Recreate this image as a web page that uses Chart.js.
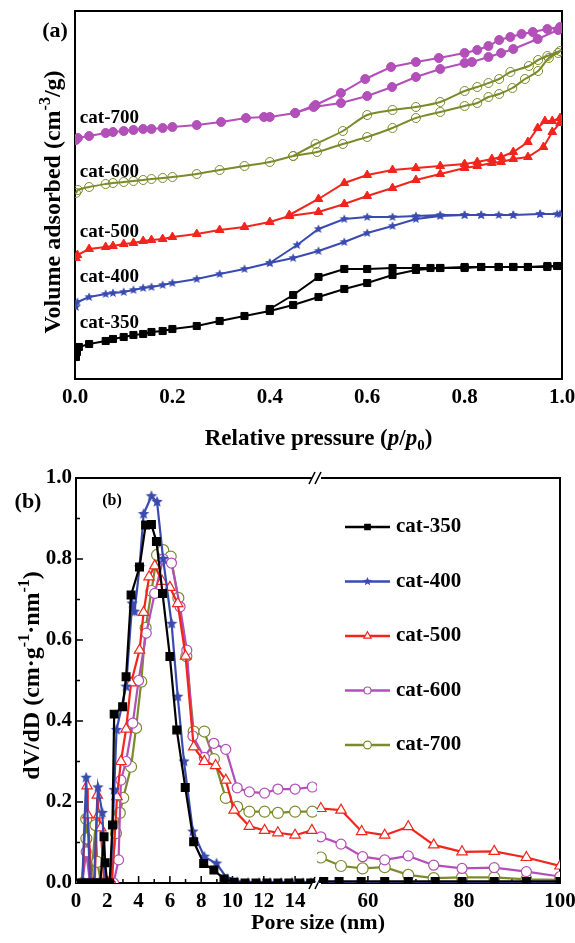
<!DOCTYPE html>
<html><head><meta charset="utf-8">
<script src="https://cdn.jsdelivr.net/npm/chart.js@4.4.1/dist/chart.umd.min.js"></script>
<style>
html,body{margin:0;padding:0;background:#fff;}
#wrap{position:relative;width:575px;height:943px;overflow:hidden;}
canvas{position:absolute;left:0;}
#ca{top:0;}
#cb{top:460px;}
</style></head><body>
<div id="wrap"><canvas id="ca" width="575" height="460"></canvas><canvas id="cb" width="575" height="483"></canvas></div>
<script>
// ================= Panel (a): N2 isotherms (x = p/p0, y = volume, arbitrary offset units) =================
const xTicksA = [0, 0.2, 0.4, 0.6, 0.8, 1.0];
const namesA = ['cat-350', 'cat-400', 'cat-500', 'cat-600', 'cat-700'];
const labelValA = [56, 102, 147, 207, 261];

const cat350Ads = [[0.002,22],[0.004,27],[0.008,32],[0.029,35],[0.063,38],[0.078,40],[0.10,42],[0.12,44],[0.14,45],[0.157,47],[0.18,48],[0.20,50],[0.25,53],[0.297,58],[0.348,63],[0.40,68],[0.448,74],[0.50,82],[0.553,90],[0.60,96],[0.652,104],[0.70,109],[0.75,111],[0.80,111],[0.834,112],[0.87,112],[0.90,112],[0.93,112],[0.97,112],[0.99,113]];
const cat350Des = [[0.996,113],[0.97,113],[0.93,112],[0.90,112],[0.87,112],[0.834,112],[0.80,112],[0.75,111],[0.73,111],[0.70,111],[0.652,111],[0.60,110],[0.553,110],[0.50,102],[0.448,84],[0.40,70]];

const cat400Ads = [[0.002,72],[0.005,77],[0.029,82],[0.063,85],[0.078,86],[0.10,87],[0.12,89],[0.14,91],[0.157,92],[0.18,94],[0.20,96],[0.25,100],[0.297,105],[0.348,110],[0.40,116],[0.448,121],[0.50,128],[0.553,137],[0.60,146],[0.652,153],[0.70,160],[0.75,163],[0.80,164],[0.834,164],[0.87,164],[0.90,164],[0.955,165],[0.99,165]];
const cat400Des = [[0.996,165],[0.955,165],[0.90,164],[0.834,164],[0.80,164],[0.75,164],[0.70,163],[0.652,162],[0.60,162],[0.553,160],[0.50,150],[0.456,134],[0.40,116]];

const cat500Ads = [[0.002,121],[0.005,124],[0.029,130],[0.063,132],[0.078,133],[0.10,135],[0.12,136],[0.14,138],[0.157,139],[0.18,140],[0.20,142],[0.25,145],[0.297,149],[0.348,152],[0.40,157],[0.44,163],[0.50,167],[0.553,175],[0.60,183],[0.652,191],[0.70,199],[0.75,205],[0.80,211],[0.826,213],[0.856,216],[0.875,217],[0.90,220],[0.93,222],[0.962,232],[0.98,247],[0.996,256]];
const cat500Des = [[0.996,261],[0.98,258],[0.965,258],[0.95,251],[0.93,237],[0.90,227],[0.875,222],[0.856,220],[0.826,217],[0.80,215],[0.75,213],[0.70,211],[0.652,209],[0.60,204],[0.553,196],[0.50,180],[0.44,164]];

const cat600Ads = [[0.002,186],[0.006,189],[0.029,192],[0.063,195],[0.078,196],[0.10,197],[0.12,198],[0.14,199],[0.157,200],[0.18,201],[0.20,202],[0.25,205],[0.297,209],[0.348,213],[0.40,217],[0.448,223],[0.497,227],[0.55,235],[0.60,242],[0.652,251],[0.70,261],[0.75,267],[0.80,273],[0.826,276],[0.849,282],[0.871,285],[0.898,291],[0.924,300],[0.951,308],[0.973,321],[0.992,326]];
const cat600Des = [[0.996,328],[0.97,323],[0.951,319],[0.932,313],[0.894,307],[0.871,300],[0.849,296],[0.826,292],[0.80,288],[0.75,277],[0.70,272],[0.652,269],[0.60,264],[0.55,248],[0.494,235],[0.448,223]];

const cat700Ads = [[0.002,239],[0.006,241],[0.029,243],[0.063,246],[0.078,247],[0.10,248],[0.12,249],[0.14,250],[0.157,250],[0.18,251],[0.20,252],[0.25,254],[0.30,257],[0.351,261],[0.388,262],[0.40,262],[0.452,266],[0.49,272],[0.546,276],[0.60,283],[0.651,292],[0.70,302],[0.75,310],[0.80,316],[0.815,317],[0.849,322],[0.875,326],[0.90,330],[0.95,340],[0.992,349]];
const cat700Des = [[0.996,352],[0.97,350],[0.94,347],[0.917,345],[0.894,342],[0.871,339],[0.849,333],[0.826,329],[0.80,326],[0.747,321],[0.70,317],[0.649,312],[0.596,300],[0.546,286],[0.494,274],[0.452,266]];

// ================= Panel (b): pore size distribution (x = nm, y = dV/dD) =================
const yTicksB = [0, 0.2, 0.4, 0.6, 0.8, 1.0];
const yMinorB = [0.1, 0.3, 0.5, 0.7, 0.9];
const xTicksBL = [0, 2, 4, 6, 8, 10, 12, 14];
const xMinorBL = [1, 3, 5, 7, 9, 11, 13, 15];
const xTicksBR = [60, 80, 100];
const xMinorBR = [50, 70, 90];
const namesB = ['cat-350', 'cat-400', 'cat-500', 'cat-600', 'cat-700'];

const pore350L = [[0.35,0],[0.65,0],[0.95,0],[1.25,0],[1.55,0],[1.79,0.114],[1.86,0.05],[2.0,0],[2.15,0],[2.33,0.143],[2.44,0.417],[2.98,0.435],[3.2,0.509],[3.52,0.711],[4.06,0.78],[4.45,0.884],[4.82,0.885],[5.14,0.843],[5.53,0.715],[6.0,0.559],[6.44,0.378],[6.98,0.236],[7.52,0.102],[8.16,0.048],[8.81,0.032],[9.46,0.01],[10.1,0.002],[10.8,0],[11.5,0],[12.2,0],[12.9,0],[13.6,0],[14.3,0],[15.0,0]];
const pore400L = [[0.4,0],[0.65,0.26],[0.9,0],[1.15,0],[1.4,0.236],[1.68,0.173],[1.9,0],[2.2,0],[2.44,0.23],[2.59,0.378],[3.2,0.485],[3.59,0.69],[3.74,0.67],[4.06,0.78],[4.32,0.911],[4.82,0.955],[5.18,0.941],[5.57,0.80],[6.11,0.64],[6.5,0.46],[6.9,0.30],[7.47,0.127],[8.2,0.065],[8.98,0.048],[9.68,0.01],[10.3,0.002],[11.0,0],[11.7,0],[12.4,0],[13.1,0],[13.8,0],[14.5,0],[15.0,0]];
const pore500L = [[0.4,0],[0.71,0.24],[0.75,0.168],[1.0,0],[1.2,0],[1.36,0.217],[1.45,0.168],[1.58,0.136],[1.8,0],[2.05,0],[2.3,0],[2.62,0.213],[2.87,0.30],[3.2,0.38],[3.52,0.494],[4.06,0.575],[4.32,0.668],[4.67,0.756],[5.03,0.783],[5.5,0.745],[6.0,0.73],[6.5,0.69],[7.0,0.56],[7.52,0.336],[8.2,0.30],[8.92,0.29],[9.57,0.254],[10.1,0.18],[11.08,0.14],[12.05,0.13],[12.9,0.124],[14.0,0.118],[15.07,0.13]];
const pore600L = [[0.4,0],[0.65,0.077],[0.9,0],[1.2,0],[1.5,0],[1.8,0],[2.1,0],[2.4,0],[2.72,0.057],[2.87,0.254],[3.2,0.30],[3.63,0.395],[4.0,0.50],[4.49,0.617],[5.03,0.715],[5.57,0.80],[6.1,0.79],[6.65,0.682],[7.08,0.575],[7.47,0.363],[8.2,0.31],[8.81,0.345],[9.57,0.33],[10.3,0.235],[11.08,0.225],[12.05,0.222],[12.9,0.232],[14.0,0.232],[15.1,0.237]];
const pore700L = [[0.4,0],[0.65,0.158],[0.66,0.11],[0.95,0],[1.25,0.143],[1.36,0.052],[1.6,0],[1.9,0],[2.2,0],[2.55,0.123],[2.8,0.173],[3.02,0.21],[3.52,0.287],[3.84,0.383],[4.17,0.497],[4.45,0.63],[4.82,0.721],[5.18,0.81],[5.57,0.822],[6.05,0.806],[6.54,0.704],[7.05,0.56],[7.52,0.374],[8.2,0.374],[8.81,0.306],[9.57,0.21],[10.3,0.188],[11.08,0.176],[12.05,0.176],[12.9,0.173],[14.0,0.176],[15.1,0.176]];

const pore350R = [[50.8,0.004],[54,0.004],[58.6,0.004],[63.5,0.004],[68.4,0.004],[74,0.004],[79.6,0.004],[86.3,0.004],[93,0.004],[100,0.004]];
const pore400R = [[49.6,0.001],[54.4,0.001],[58.9,0.001],[63.5,0.001],[68.4,0.001],[73.7,0.001],[79.6,0.001],[86.3,0.001],[93,0.001],[100,0.001]];
const pore500R = [[50.2,0.184],[54.4,0.18],[58.7,0.127],[63.5,0.118],[68.4,0.139],[73.7,0.094],[79.6,0.077],[86.3,0.078],[93,0.063],[100,0.042]];
const pore600R = [[50.2,0.114],[54.4,0.096],[58.9,0.065],[63.5,0.057],[68.4,0.067],[73.7,0.044],[79.6,0.036],[86.3,0.038],[93,0.028],[100,0.016]];
const pore700R = [[50.2,0.063],[54.4,0.042],[58.9,0.036],[63.5,0.039],[68.4,0.02],[73.7,0.012],[79.6,0.014],[86.3,0.014],[93,0.009],[100,0.008]];

// ================= styling =================
const FONT = "'Liberation Serif', 'Times New Roman', serif";
Chart.defaults.font.family = FONT;
Chart.defaults.font.weight = 'bold';
Chart.defaults.color = '#000';
Chart.defaults.animation = false;

const BLACK = '#000000', BLUE = '#3a4bb0', RED = '#f2251c', MAGENTA = '#b24fb8', OLIVE = '#7c8a2c';
const COLORS_A = [BLACK, BLUE, RED, OLIVE, MAGENTA];
const COLORS_B = [BLACK, BLUE, RED, MAGENTA, OLIVE];

function starCanvas(r, color) {
  const c = document.createElement('canvas');
  const s = Math.ceil(r * 2 + 2);
  c.width = s; c.height = s;
  const g = c.getContext('2d');
  g.fillStyle = color; g.beginPath();
  for (let i = 0; i < 10; i++) {
    const a = -Math.PI / 2 + i * Math.PI / 5;
    const rr = i % 2 ? r * 0.45 : r;
    g.lineTo(s / 2 + rr * Math.cos(a), s / 2 + rr * Math.sin(a));
  }
  g.closePath(); g.fill();
  return c;
}

function richText(ctx, runs, cx, cy, size, rot) {
  ctx.save();
  ctx.translate(cx, cy); ctx.rotate(rot);
  const fnt = r => `${r.it ? 'italic ' : ''}bold ${(r.sup || r.sub) ? Math.round(size * 0.66) : size}px ${FONT}`;
  let w = 0;
  const ws = runs.map(r => { ctx.font = fnt(r); const m = ctx.measureText(r.t).width; w += m; return m; });
  let x = -w / 2;
  ctx.textAlign = 'left'; ctx.textBaseline = 'alphabetic'; ctx.fillStyle = '#000';
  runs.forEach((r, i) => {
    ctx.font = fnt(r);
    const dy = r.sup ? -size * 0.4 : (r.sub ? size * 0.22 : 0);
    ctx.fillText(r.t, x, size * 0.33 + dy);
    x += ws[i];
  });
  ctx.restore();
}

function marker(ctx, st, x, y, r, fill, stroke) {
  if (typeof st !== 'string') { ctx.drawImage(st, x - st.width / 2, y - st.height / 2); return; }
  ctx.beginPath();
  if (st === 'rect') { const s = r * Math.SQRT1_2; ctx.rect(x - s, y - s, 2 * s, 2 * s); }
  else if (st === 'triangle') {
    let a = 0;
    for (let k = 0; k < 3; k++) { const px = x + Math.sin(a) * r, py = y - Math.cos(a) * r; k ? ctx.lineTo(px, py) : ctx.moveTo(px, py); a += 2 * Math.PI / 3; }
    ctx.closePath();
  } else { ctx.arc(x, y, r, 0, Math.PI * 2); }
  ctx.fillStyle = fill; ctx.fill();
  ctx.lineWidth = 1.2; ctx.strokeStyle = stroke; ctx.stroke();
}

// ================= Panel (a) chart =================
const adsA = [cat350Ads, cat400Ads, cat500Ads, cat600Ads, cat700Ads];
const desA = [cat350Des, cat400Des, cat500Des, cat600Des, cat700Des];
const pointA = ['rect', starCanvas(4.8, BLUE), 'triangle', 'circle', 'circle'];
const fillA = [BLACK, BLUE, RED, 'rgba(255,255,255,0)', MAGENTA];
const radA = [5, 5, 5, 4.5, 4.5];
const tensionA = [0, 0, 0, 0.3, 0];

const decorA = {
  id: 'decorA',
  beforeDatasetsDraw(chart) {
    const { ctx, chartArea: a } = chart;
    ctx.save(); ctx.lineWidth = 2; ctx.strokeStyle = '#000';
    ctx.strokeRect(a.left, a.top, a.right - a.left, a.bottom - a.top);
    ctx.restore();
  },
  afterDraw(chart) {
    const { ctx, chartArea: a, scales } = chart;
    ctx.save();
    ctx.fillStyle = '#000'; ctx.textBaseline = 'middle'; ctx.textAlign = 'left';
    ctx.font = `bold 19px ${FONT}`;
    namesA.forEach((t, i) => ctx.fillText(t, scales.x.getPixelForValue(0.01), scales.y.getPixelForValue(labelValA[i])));
    ctx.font = `bold 22px ${FONT}`; ctx.textAlign = 'center';
    ctx.fillText('(a)', 55, 31);
    ctx.restore();
    richText(ctx, [{ t: 'Relative pressure (' }, { t: 'p', it: 1 }, { t: '/' }, { t: 'p', it: 1 }, { t: '0', sub: 1 }, { t: ')' }], (a.left + a.right) / 2, a.bottom + 58, 23, 0);
    richText(ctx, [{ t: 'Volume adsorbed (cm' }, { t: '-3', sup: 1 }, { t: '/g)' }], 52, (a.top + a.bottom) / 2 + 7, 24, -Math.PI / 2);
  }
};

new Chart(document.getElementById('ca'), {
  type: 'line',
  data: {
    datasets: namesA.map((n, i) => ({
      label: n,
      data: adsA[i].concat(desA[i]).map(([x, y]) => ({ x, y })),
      borderColor: COLORS_A[i], borderWidth: 2, tension: tensionA[i], fill: false,
      pointStyle: pointA[i], pointRadius: radA[i],
      pointBackgroundColor: fillA[i],
      pointBorderColor: COLORS_A[i], pointBorderWidth: 1
    }))
  },
  options: {
    responsive: false, animation: false,
    layout: { padding: { left: 0, top: 11, right: 13, bottom: 0 } },
    plugins: { legend: { display: false }, tooltip: { enabled: false } },
    scales: {
      x: {
        type: 'linear', min: 0, max: 1,
        afterBuildTicks: s => { s.ticks = xTicksA.map(v => ({ value: v })); },
        afterFit: s => { s.height = 81; s.paddingLeft = 0; s.paddingRight = 0; },
        grid: { display: false, drawTicks: false }, border: { display: false },
        ticks: { font: { size: 21, weight: 'bold' }, padding: 6, maxRotation: 0, autoSkip: false, callback: v => Number(v).toFixed(1) }
      },
      y: {
        type: 'linear', min: 0, max: 368,
        afterFit: s => { s.width = 75; },
        grid: { display: false, drawTicks: false }, border: { display: false },
        ticks: { display: false }
      }
    }
  },
  plugins: [decorA]
});

// ================= Panel (b) chart =================
const leftB = [pore350L, pore400L, pore500L, pore600L, pore700L];
const rightB = [pore350R, pore400R, pore500R, pore600R, pore700R];
const pointB = ['rect', starCanvas(6, BLUE), 'triangle', 'circle', 'circle'];
const fillB = [BLACK, BLUE, '#ffffff', '#ffffff', '#ffffff'];
const radB = [5.5, 6, 6, 5, 5.5];

function dsB(i, data, axis, showPts) {
  return {
    label: namesB[i] + (axis === 'xL' ? '' : ' '),
    data: data.map(([x, y]) => ({ x, y })),
    xAxisID: axis, yAxisID: 'y',
    borderColor: COLORS_B[i], borderWidth: 2.2, tension: 0, fill: false,
    pointStyle: pointB[i], pointRadius: showPts ? radB[i] : 0,
    pointBackgroundColor: fillB[i], pointBorderColor: COLORS_B[i], pointBorderWidth: 1.2
  };
}

const decorB = {
  id: 'decorB',
  beforeDatasetsDraw(chart) {
    const { ctx, chartArea: a, scales } = chart;
    const bx = scales.xL.right;
    ctx.save();
    ctx.lineWidth = 2; ctx.strokeStyle = '#000';
    ctx.beginPath();
    ctx.moveTo(bx - 5, a.top); ctx.lineTo(a.left, a.top); ctx.lineTo(a.left, a.bottom); ctx.lineTo(bx - 5, a.bottom);
    ctx.moveTo(bx + 4, a.bottom); ctx.lineTo(a.right, a.bottom); ctx.lineTo(a.right, a.top); ctx.lineTo(bx + 4, a.top);
    ctx.stroke();
    ctx.lineWidth = 1.6;
    ctx.beginPath();
    [a.top, a.bottom].forEach(y => {
      [-5, 1].forEach(d => { ctx.moveTo(bx + d - 3, y + 6); ctx.lineTo(bx + d + 3, y - 6); });
    });
    ctx.stroke();
    // inward tick marks
    ctx.lineWidth = 1.5;
    ctx.beginPath();
    const ty = (v, len) => { const y = scales.y.getPixelForValue(v); ctx.moveTo(a.left, y); ctx.lineTo(a.left + len, y); };
    yTicksB.filter(v => v > 0 && v < 1).forEach(v => ty(v, 7));
    yMinorB.forEach(v => ty(v, 4));
    const tx = (sc, v, len) => { const x = sc.getPixelForValue(v); if (x <= a.left + 1 || x >= a.right - 1 || x < sc.left || x > sc.right) return; ctx.moveTo(x, a.bottom); ctx.lineTo(x, a.bottom - len); };
    xTicksBL.forEach(v => tx(scales.xL, v, 7));
    xMinorBL.forEach(v => tx(scales.xL, v, 4));
    xTicksBR.forEach(v => tx(scales.xR, v, 7));
    xMinorBR.forEach(v => tx(scales.xR, v, 4));
    ctx.stroke();
    ctx.restore();
  },
  afterDraw(chart) {
    const { ctx, chartArea: a } = chart;
    ctx.save();
    ctx.fillStyle = '#000'; ctx.textBaseline = 'middle'; ctx.textAlign = 'center';
    ctx.font = `bold 22px ${FONT}`;
    ctx.fillText('(b)', 28, 42);
    ctx.font = `bold 16px ${FONT}`;
    ctx.fillText('(b)', 112, 41);
    // legend
    namesB.forEach((n, i) => {
      const y = a.top + 49 + i * 54.5;
      const x0 = a.left + 269, x1 = a.left + 314;
      ctx.strokeStyle = COLORS_B[i]; ctx.lineWidth = 2.4;
      ctx.beginPath(); ctx.moveTo(x0, y); ctx.lineTo(x1, y); ctx.stroke();
      const st = i === 1 ? starCanvas(4.5, BLUE) : pointB[i];
      marker(ctx, st, (x0 + x1) / 2, y, radB[i] * 0.7, fillB[i], COLORS_B[i]);
      ctx.fillStyle = '#000'; ctx.textAlign = 'left'; ctx.font = `bold 21px ${FONT}`;
      ctx.fillText(n, x1 + 6, y);
    });
    ctx.restore();
    richText(ctx, [{ t: 'Pore size (nm)' }], (a.left + a.right) / 2, a.bottom + 39, 22, 0);
    richText(ctx, [{ t: 'dV/dD (cm·g' }, { t: '-1', sup: 1 }, { t: '·nm' }, { t: '-1', sup: 1 }, { t: ')' }], 31, (a.top + a.bottom) / 2 - 5, 24, -Math.PI / 2);
  }
};

new Chart(document.getElementById('cb'), {
  type: 'line',
  data: {
    datasets: namesB.map((n, i) => dsB(i, leftB[i], 'xL', true))
      .concat(namesB.map((n, i) => dsB(i, rightB[i], 'xR', i !== 1)))
  },
  options: {
    responsive: false, animation: false,
    layout: { padding: { left: 0, top: 18, right: 15, bottom: 0 } },
    plugins: { legend: { display: false }, tooltip: { enabled: false } },
    scales: {
      xL: {
        type: 'linear', position: 'bottom', stack: 'pore', stackWeight: 241, min: 0, max: 15.4,
        afterBuildTicks: s => { s.ticks = xTicksBL.map(v => ({ value: v })); },
        afterFit: s => { s.height = 60; s.paddingLeft = 0; s.paddingRight = 0; },
        grid: { display: false, drawTicks: false }, border: { display: false },
        ticks: { font: { size: 21, weight: 'bold' }, padding: 6, maxRotation: 0, autoSkip: false }
      },
      xR: {
        type: 'linear', position: 'bottom', stack: 'pore', stackWeight: 243, min: 49.4, max: 100,
        afterBuildTicks: s => { s.ticks = xTicksBR.map(v => ({ value: v })); },
        afterFit: s => { s.height = 60; s.paddingLeft = 0; s.paddingRight = 0; },
        grid: { display: false, drawTicks: false }, border: { display: false },
        ticks: { font: { size: 21, weight: 'bold' }, padding: 6, maxRotation: 0, autoSkip: false }
      },
      y: {
        type: 'linear', position: 'left', min: 0, max: 1,
        afterBuildTicks: s => { s.ticks = yTicksB.map(v => ({ value: v })); },
        afterFit: s => { s.width = 76; },
        grid: { display: false, drawTicks: false }, border: { display: false },
        ticks: { font: { size: 21, weight: 'bold' }, padding: 4, callback: v => Number(v).toFixed(1) }
      }
    }
  },
  plugins: [decorB]
});
</script>
</body></html>
